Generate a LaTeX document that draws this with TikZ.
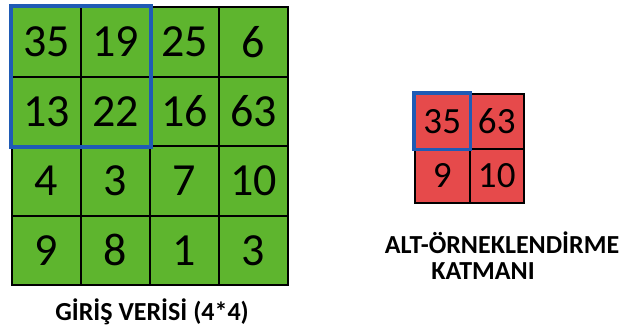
\documentclass[tikz,border=0pt]{standalone}
\usepackage{fontspec}
\setmainfont{Carlito}
\usetikzlibrary{positioning}
\definecolor{mGreen}{HTML}{5EB52E}
\definecolor{mRed}{HTML}{E64A4B}
\definecolor{mBlue}{HTML}{1F5BB5}

\begin{document}
\begin{tikzpicture}[x=1pt, y=-1pt,
    gcell/.style={draw=black, fill=mGreen, line width=2pt, minimum width=69pt, minimum height=69.5pt, inner sep=0pt, font=\fontsize{46}{46}\selectfont},
    rcell/.style={draw=black, fill=mRed, line width=2pt, minimum size=54.5pt, inner sep=0pt, font=\fontsize{37}{37}\selectfont},
    selbox/.style={draw=mBlue, line width=3.5pt},
    caption/.style={font=\fontsize{26}{26}\selectfont\bfseries, inner sep=0pt}]
    \useasboundingbox (0,0) rectangle (625,330);
    % input 4x4
    \foreach \row [count=\r from 0] in {{35,19,25,6},{13,22,16,63},{4,3,7,10},{9,8,1,3}} {
      \foreach \v [count=\c from 0] in \row {
        \node[gcell] (g\r\c) at (12+69*\c+34.5, 7+69.5*\r+34.75) {\v};
      }
    }
    \draw[selbox] (g00.north west) rectangle (g11.south east);
    % pooled 2x2
    \foreach \row [count=\r from 0] in {{35,63},{9,10}} {
      \foreach \v [count=\c from 0] in \row {
        \node[rcell] (r\r\c) at (415+54.5*\c+27.25, 94+54.5*\r+27.25) {\v};
      }
    }
    \draw[selbox] (r00.north west) rectangle (r00.south east);
    \node[caption] (lblin) at (152,312) {GİRİŞ VERİSİ (4*4)};
    \node[caption] (lblalt) at (502,243) {ALT-ÖRNEKLENDİRME};
    \node[caption] (lblkat) at (483,271) {KATMANI};
  \end{tikzpicture}
\end{document}
